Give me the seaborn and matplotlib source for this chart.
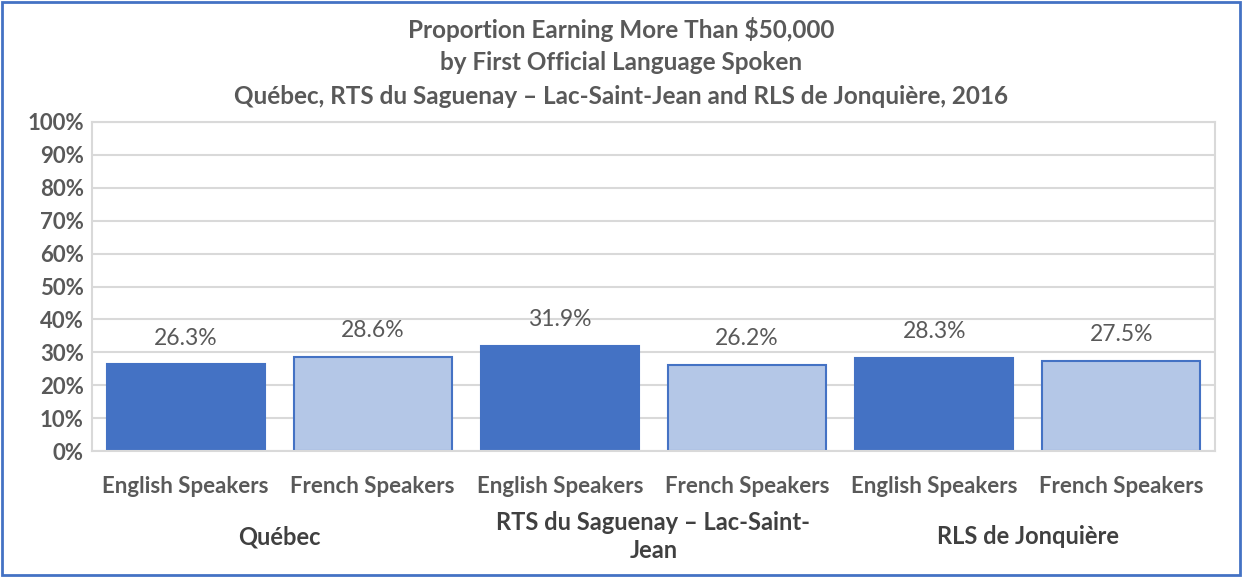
import pandas as pd
import matplotlib.pyplot as plt
from matplotlib.patches import Rectangle
from matplotlib.ticker import PercentFormatter
import seaborn as sns

regions = ["Québec", "RTS du Saguenay – Lac-Saint-\nJean", "RLS de Jonquière"]
languages = ["English Speakers", "French Speakers"]
english = [26.3, 31.9, 28.3]
french = [28.6, 26.2, 27.5]

rows = []
for i, r in enumerate(regions):
    rows.append({"pos": 2 * i, "lang": languages[0], "value": english[i]})
    rows.append({"pos": 2 * i + 1, "lang": languages[1], "value": french[i]})
df = pd.DataFrame(rows)

sns.set_style("white")
plt.rcParams['font.family'] = ['Lato', 'DejaVu Sans']

dark = "#4472C4"
light = "#B4C7E7"
grey = "#595959"

fig = plt.figure(figsize=(12.42, 5.77), dpi=100)
ax = fig.add_axes([92 / 1242, 1 - 451 / 577, (1215 - 92) / 1242, (451 - 122) / 577])

sns.barplot(data=df, x="pos", y="value", hue="lang", order=list(range(6)),
            palette=[dark, light], dodge=False, width=0.845, legend=False,
            saturation=1, ax=ax)

# value labels above each bar
for p in ax.patches:
    if p.get_height() <= 0:
        continue
    p.set_edgecolor(dark)
    p.set_linewidth(1.5)
    ax.annotate(f"{p.get_height():.1f}%", (p.get_x() + p.get_width() / 2, p.get_height()),
                xytext=(0, 19), textcoords="offset points", ha="center", va="center",
                fontsize=16.5, color=grey)

ax.set_ylim(0, 100)
ax.set_xlim(-0.5, 5.5)
ax.set_yticks(range(0, 101, 10))
ax.yaxis.set_major_formatter(PercentFormatter(decimals=0))
ax.grid(axis="y", color="#D9D9D9", linewidth=1.5)
ax.set_axisbelow(True)
for s in ax.spines.values():
    s.set_color("#D9D9D9")
    s.set_linewidth(1.5)
ax.tick_params(axis="y", length=0, labelsize=16, labelcolor=grey, pad=6)
for t in ax.get_yticklabels():
    t.set_fontweight("bold")
ax.set_xticks(range(6))
ax.set_xticklabels(languages * 3, fontsize=16, color=grey, fontweight="bold")
ax.tick_params(axis="x", length=0, pad=18)
ax.set_xlabel("")
ax.set_ylabel("")

# group labels under each pair
for i, r in enumerate(regions):
    xc = 2 * i + 0.5
    ax.text(xc, -26, r, ha="center", va="center", fontsize=17, fontweight="bold",
            color="#404040", linespacing=1.3, transform=ax.transData, clip_on=False)

fig.text(0.5, 1 - 30 / 577, "Proportion Earning More Than $50,000", ha="center", va="center",
         fontsize=17.5, fontweight="bold", color=grey)
fig.text(0.5, 1 - 62 / 577, "by First Official Language Spoken", ha="center", va="center",
         fontsize=17.5, fontweight="bold", color=grey)
fig.text(0.5, 1 - 96 / 577, "Québec, RTS du Saguenay – Lac-Saint-Jean and RLS de Jonquière, 2016",
         ha="center", va="center", fontsize=17.5, fontweight="bold", color=grey)

fig.patches.append(Rectangle((0.002, 0.003), 0.996, 0.994, transform=fig.transFigure,
                             fill=False, edgecolor=dark, linewidth=2))

fig.savefig("out.png", dpi=100)
